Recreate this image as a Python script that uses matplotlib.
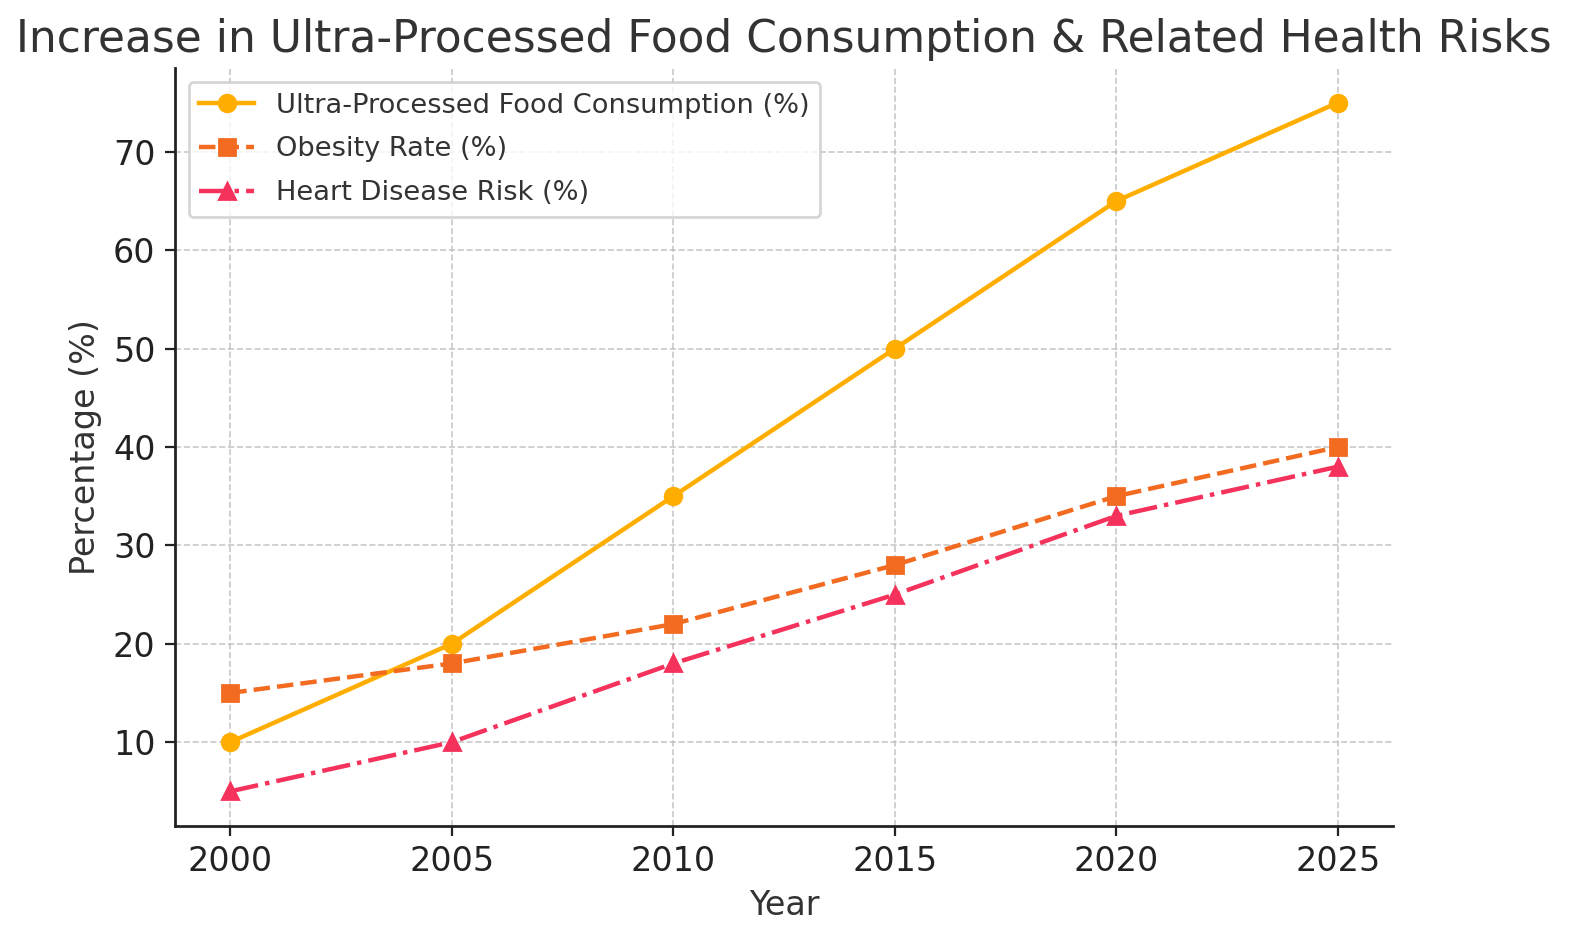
import numpy as np
import matplotlib.pyplot as plt

# data
years = [2000, 2005, 2010, 2015, 2020, 2025]
upf_consumption = [10, 20, 35, 50, 65, 75]
obesity_rate = [15, 18, 22, 28, 35, 40]
heart_risk = [5, 10, 18, 25, 33, 38]

plt.rcParams['font.family'] = ['DejaVu Sans']
plt.rcParams['text.color'] = '#333333'
plt.rcParams['axes.labelcolor'] = '#333333'
plt.rcParams['xtick.color'] = '#222222'
plt.rcParams['ytick.color'] = '#222222'
plt.rcParams['xtick.labelcolor'] = '#222222'
plt.rcParams['ytick.labelcolor'] = '#222222'

fig = plt.figure(figsize=(7.98, 4.735), dpi=200)
ax = fig.add_axes([0.1096, 0.128, 0.7634, 0.8])

ax.plot(years, upf_consumption, marker='o', linestyle='-', color='#FFAE00',
        linewidth=1.6, markersize=6, label='Ultra-Processed Food Consumption (%)')
ax.plot(years, obesity_rate, marker='s', linestyle='--', color='#F26B21',
        linewidth=1.6, markersize=6, label='Obesity Rate (%)')
ax.plot(years, heart_risk, marker='^', linestyle='-.', color='#F5325B',
        linewidth=1.6, markersize=6, label='Heart Disease Risk (%)')

ax.set_title('Increase in Ultra-Processed Food Consumption & Related Health Risks', fontsize=15.8)
ax.set_xlabel('Year', fontsize=12)
ax.set_ylabel('Percentage (%)', fontsize=12)
ax.tick_params(labelsize=12)
ax.grid(True, linestyle='--', color='#bbbbbb', alpha=0.8, linewidth=0.6)

for s in ['top', 'right']:
    ax.spines[s].set_visible(False)
for s in ['left', 'bottom']:
    ax.spines[s].set_color('#222222')
    ax.spines[s].set_linewidth(1.0)

ax.legend(fontsize=9.8, loc='upper left', labelspacing=0.65)

fig.savefig('out.png', dpi=200)
